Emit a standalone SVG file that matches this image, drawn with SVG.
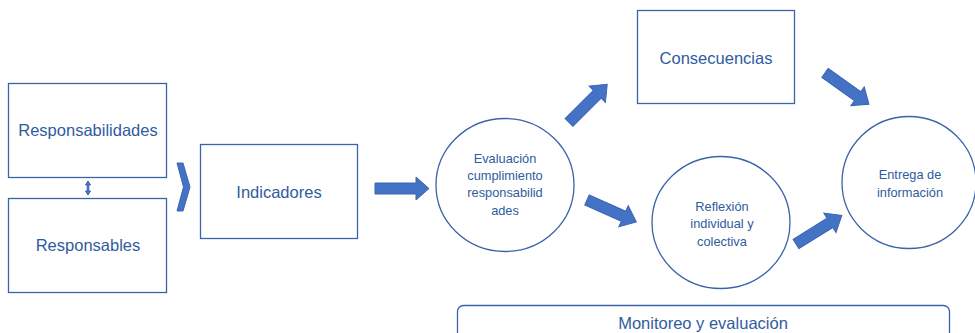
<svg xmlns="http://www.w3.org/2000/svg" width="975" height="333" viewBox="0 0 975 333">
<style>
.box{fill:#fff;stroke:#3A63A8;stroke-width:1.3}
.t{font-family:"Liberation Sans",Arial,sans-serif;fill:#2F5C9E;text-anchor:middle}
.big{font-size:16.5px}
.sm{font-size:12.8px}
.arr{fill:#4472C4;stroke:#3A66B0;stroke-width:1}
</style>
<defs>
<path id="ar" d="M0,-5.5 L40,-5.5 L40,-11.5 L54,0 L40,11.5 L40,5.5 L0,5.5 Z"/>
</defs>
<rect x="0" y="0" width="975" height="333" fill="#fff"/>
<g id="responsabilidades"><rect class="box" x="8.5" y="83.5" width="158" height="94"/><text class="t big" x="88" y="136">Responsabilidades</text></g>
<g id="responsables"><rect class="box" x="8.5" y="198.5" width="158" height="94"/><text class="t big" x="88" y="251">Responsables</text></g>
<g id="indicadores"><rect class="box" x="200.5" y="144.5" width="157" height="94"/><text class="t big" x="279" y="198">Indicadores</text></g>
<g id="evaluacion"><ellipse class="box" cx="505" cy="185" rx="69" ry="66.5"/>
<text class="t sm" x="505" y="163">Evaluación</text><text class="t sm" x="505" y="180">cumplimiento</text><text class="t sm" x="505" y="197">responsabilid</text><text class="t sm" x="505" y="215">ades</text></g>
<g id="consecuencias"><rect class="box" x="637.5" y="10.5" width="157" height="93"/><text class="t big" x="716" y="64">Consecuencias</text></g>
<g id="reflexion"><ellipse class="box" cx="721" cy="222.5" rx="69" ry="66"/>
<text class="t sm" x="722" y="211">Reflexión</text><text class="t sm" x="722" y="228">individual y</text><text class="t sm" x="722" y="246">colectiva</text></g>
<g id="entrega"><ellipse class="box" cx="909" cy="182.5" rx="67" ry="66"/>
<text class="t sm" x="910" y="179">Entrega de</text><text class="t sm" x="910" y="197">información</text></g>
<g id="monitoreo"><rect class="box" x="457.5" y="305.5" width="492" height="40" rx="6"/><text class="t big" x="703" y="329">Monitoreo y evaluación</text></g>
<g id="connectors">
<path class="arr" stroke-width="0.5" d="M88,181 L90.5,185 L88.8,185 L88.8,191 L90.5,191 L88,195 L85.5,191 L87.2,191 L87.2,185 L85.5,185 Z"/>
<path class="arr" d="M177,163 L183,163 L190,187 L183,211 L177,211 L183.5,187 Z"/>
<path class="arr" d="M375,183 L416,183 L416,177 L429,188.5 L416,200 L416,194 L375,194 Z"/>
<use href="#ar" class="arr" transform="translate(569,122.5) rotate(-45)"/>
<use href="#ar" class="arr" transform="translate(587,200) rotate(24)"/>
<use href="#ar" class="arr" transform="translate(825,73) rotate(35.5)"/>
<use href="#ar" class="arr" transform="translate(796,244) rotate(-32)"/>
</g>
</svg>
